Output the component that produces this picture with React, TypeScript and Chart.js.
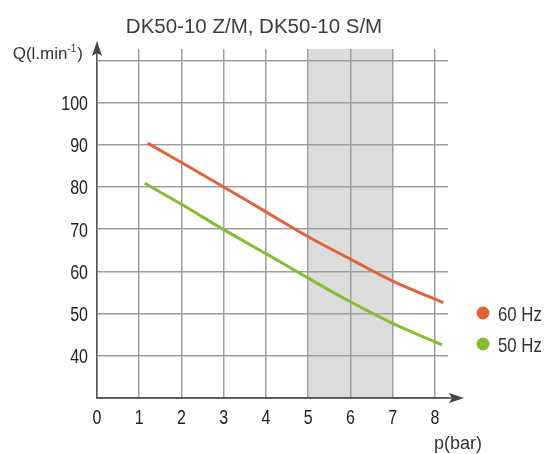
import React, { useEffect, useRef } from "react";
import { Chart, registerables } from "chart.js";

Chart.register(...registerables);

const TITLE = "DK50-10 Z/M, DK50-10 S/M";
const Y_LABEL = "Q(l.min";
const Y_LABEL_SUP = "-1";
const X_LABEL = "p(bar)";

const seriesLabels = ["60 Hz", "50 Hz"];
const pressure60 = [1.2, 2, 3, 4, 5, 6, 7, 8.2];
const flow60 = [90.4, 85.8, 80.0, 74.1, 68.2, 62.9, 57.7, 52.6];
const pressure50 = [1.13, 2, 3, 4, 5, 6, 7, 8.17];
const flow50 = [80.9, 75.9, 69.9, 64.2, 58.4, 52.8, 47.7, 42.6];

const xTicks = [0, 1, 2, 3, 4, 5, 6, 7, 8];
const yTicks = [40, 50, 60, 70, 80, 90, 100, 110];
const yTickLabels = ["40", "50", "60", "70", "80", "90", "100", ""];
const bandRange = [5, 7];

const COLOR_60 = "#de6439";
const COLOR_50 = "#84bd35";
const SANS = '"Liberation Sans", Arial, sans-serif';
const SQUEEZE = 0.8;

function squeezedText(ctx: any, text: string, x: number, y: number, align: string) {
  const w = ctx.measureText(text).width * SQUEEZE;
  let sx = x;
  if (align === "center") sx = x - w / 2;
  else if (align === "right") sx = x - w;
  ctx.save();
  ctx.translate(sx, y);
  ctx.scale(SQUEEZE, 1);
  ctx.textAlign = "left";
  ctx.fillText(text, 0, 0);
  ctx.restore();
}

const decorPlugin = {
  id: "decor",
  beforeDraw(chart: any) {
    const { ctx, chartArea, scales } = chart;
    const x = scales.x;
    const x0 = x.getPixelForValue(bandRange[0]);
    const x1 = x.getPixelForValue(bandRange[1]);
    ctx.save();
    ctx.fillStyle = "#dcdcdc";
    ctx.fillRect(x0, chartArea.top, x1 - x0, chartArea.bottom - chartArea.top);
    ctx.restore();
  },
  afterDraw(chart: any) {
    const { ctx, chartArea, scales } = chart;
    const left = chartArea.left;
    const bottom = chartArea.bottom;
    ctx.save();
    ctx.strokeStyle = "#555";
    ctx.fillStyle = "#444";
    ctx.lineWidth = 1.5;
    // extend x axis
    ctx.beginPath();
    ctx.moveTo(left, bottom);
    ctx.lineTo(chartArea.right + 4, bottom);
    ctx.stroke();
    // y axis arrow
    ctx.beginPath();
    ctx.moveTo(left, chartArea.top - 8);
    ctx.lineTo(left - 5, chartArea.top + 7);
    ctx.lineTo(left, chartArea.top + 4);
    ctx.lineTo(left + 5, chartArea.top + 7);
    ctx.closePath();
    ctx.fill();
    // x axis arrow
    const xr = chartArea.right + 16;
    ctx.beginPath();
    ctx.moveTo(xr, bottom);
    ctx.lineTo(xr - 15, bottom - 5);
    ctx.lineTo(xr - 12, bottom);
    ctx.lineTo(xr - 15, bottom + 5);
    ctx.closePath();
    ctx.fill();

    // tick labels (condensed)
    ctx.fillStyle = "#222";
    ctx.font = `20px ${SANS}`;
    ctx.textBaseline = "alphabetic";
    xTicks.forEach((v) => {
      squeezedText(ctx, String(v), scales.x.getPixelForValue(v), 424, "center");
    });
    yTicks.forEach((v, i) => {
      if (!yTickLabels[i]) return;
      squeezedText(ctx, yTickLabels[i], 88, scales.y.getPixelForValue(v) + 7.5, "right");
    });

    // title
    ctx.fillStyle = "#3d3d3d";
    ctx.font = `20.5px ${SANS}`;
    ctx.textAlign = "center";
    ctx.textBaseline = "alphabetic";
    ctx.fillText(TITLE, 254, 33);

    // y label with superscript
    ctx.fillStyle = "#333";
    ctx.font = `17px ${SANS}`;
    const mainW = ctx.measureText(Y_LABEL).width;
    ctx.font = `10px ${SANS}`;
    const supW = ctx.measureText(Y_LABEL_SUP).width;
    ctx.font = `17px ${SANS}`;
    const closeW = ctx.measureText(")").width;
    const total = mainW + supW + 1 + closeW;
    let lx = 83 - total;
    ctx.textAlign = "left";
    ctx.fillText(Y_LABEL, lx, 59);
    lx += mainW;
    ctx.font = `10px ${SANS}`;
    ctx.fillText(Y_LABEL_SUP, lx, 52);
    lx += supW + 1;
    ctx.font = `17px ${SANS}`;
    ctx.fillText(")", lx, 59);

    // x label
    ctx.font = `18px ${SANS}`;
    ctx.textAlign = "left";
    ctx.fillText(X_LABEL, 434, 449);

    // legend
    const colors = [COLOR_60, COLOR_50];
    const ys = [313, 344];
    ctx.font = `21px ${SANS}`;
    ctx.textBaseline = "alphabetic";
    seriesLabels.forEach((lab, i) => {
      ctx.fillStyle = colors[i];
      ctx.beginPath();
      ctx.arc(483, ys[i], 6.5, 0, Math.PI * 2);
      ctx.fill();
      ctx.fillStyle = "#333";
      squeezedText(ctx, lab, 498, ys[i] + 7.5, "left");
    });
    ctx.restore();
  },
};

export default function App() {
  const ref = useRef<HTMLCanvasElement | null>(null);
  useEffect(() => {
    if (!ref.current) return;
    const chart = new Chart(ref.current, {
      type: "line",
      data: {
        datasets: [
          {
            label: seriesLabels[0],
            data: pressure60.map((p, i) => ({ x: p, y: flow60[i] })),
            borderColor: COLOR_60,
            borderWidth: 3,
            pointRadius: 0,
            cubicInterpolationMode: "monotone",
          },
          {
            label: seriesLabels[1],
            data: pressure50.map((p, i) => ({ x: p, y: flow50[i] })),
            borderColor: COLOR_50,
            borderWidth: 3,
            pointRadius: 0,
            cubicInterpolationMode: "monotone",
          },
        ],
      },
      options: {
        animation: false,
        responsive: false,
        devicePixelRatio: 1,
        layout: { padding: { left: 0, top: 49, right: 99, bottom: 0 } },
        plugins: { legend: { display: false }, tooltip: { enabled: false }, title: { display: false } },
        scales: {
          x: {
            type: "linear",
            min: 0,
            max: 8.31,
            afterBuildTicks: (s: any) => {
              s.ticks = xTicks.map((v) => ({ value: v }));
            },
            afterFit: (s: any) => {
              s.height = 56;
            },
            grid: { color: "#9e9e9e", lineWidth: 1.5, drawTicks: false },
            border: { display: true, color: "#555", width: 1.5 },
            ticks: { display: false },
          },
          y: {
            type: "linear",
            min: 30,
            max: 112.7,
            afterBuildTicks: (s: any) => {
              s.ticks = yTicks.map((v) => ({ value: v }));
            },
            afterFit: (s: any) => {
              s.width = 97;
            },
            grid: { color: "#9e9e9e", lineWidth: 1.5, drawTicks: false },
            border: { display: true, color: "#555", width: 1.5 },
            ticks: { display: false },
          },
        },
      },
      plugins: [decorPlugin],
    } as any);
    return () => chart.destroy();
  }, []);
  return (
    <div style={{ position: "absolute", left: 0, top: 0, width: 547, height: 454, background: "#fff" }}>
      <canvas ref={ref} width={547} height={454} />
    </div>
  );
}
